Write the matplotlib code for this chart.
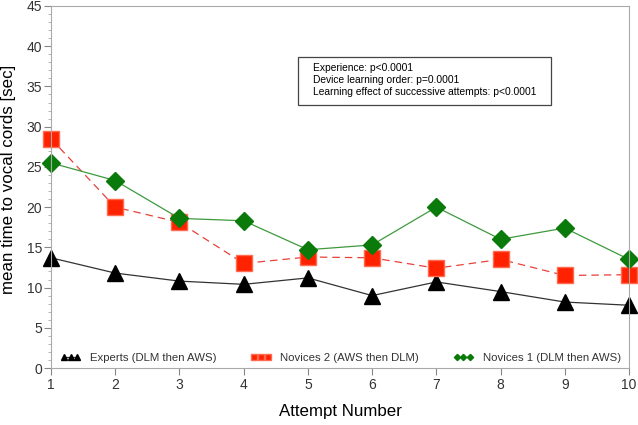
import matplotlib.pyplot as plt
from matplotlib.patches import Rectangle
from matplotlib.ticker import MultipleLocator

attempts = [1, 2, 3, 4, 5, 6, 7, 8, 9, 10]
experts = [13.7, 11.8, 10.8, 10.4, 11.2, 9.0, 10.7, 9.5, 8.2, 7.8]
novices2 = [28.5, 20.0, 18.1, 13.0, 13.8, 13.7, 12.4, 13.5, 11.5, 11.6]
novices1 = [25.5, 23.3, 18.6, 18.3, 14.7, 15.3, 20.0, 16.0, 17.4, 13.5]

plt.rcParams['font.family'] = 'Liberation Sans'

fig = plt.figure(figsize=(6.38, 4.25), dpi=100)
ax = fig.add_axes([51 / 638, 1 - 368 / 425, 578 / 638, 362 / 425])

ax.plot(attempts, experts, color='#333333', lw=0.9, marker='^', ms=12,
        mfc='black', mec='black', label='Experts (DLM then AWS)', clip_on=False)
ax.plot(attempts, novices2, color='#e8413a', lw=0.9, ls=(0, (6, 4)), marker='s', ms=12,
        mfc='#ff2200', mec='#ff6a50', label='Novices 2 (AWS then DLM)', clip_on=False)
ax.plot(attempts, novices1, color='#3d9a3d', lw=0.9, marker='D', ms=9,
        mfc='#0a7a0a', mec='#0a7a0a', label='Novices 1 (DLM then AWS)', clip_on=False)

ax.set_xlim(1, 10)
ax.set_ylim(0, 45)
ax.set_xticks(attempts)
ax.yaxis.set_major_locator(MultipleLocator(5))
ax.yaxis.set_minor_locator(MultipleLocator(1))
ax.tick_params(axis='both', labelsize=10, colors='#888888', labelcolor='#333333', length=5)
ax.tick_params(axis='y', which='minor', length=2.5, colors='#aaaaaa')
ax.tick_params(axis='x', pad=2.5)
ax.tick_params(axis='y', pad=1.5)
for s in ax.spines.values():
    s.set_color('#aaaaaa')

ax.set_xlabel('Attempt Number', fontsize=12.2)
ax.xaxis.set_label_coords(0.5, -0.1215)
ax.xaxis.label.set_va('center')
ax.set_ylabel('mean time to vocal cords [sec]', fontsize=12.2)
ax.yaxis.set_label_coords(-0.0727, 0.522)
ax.yaxis.label.set_va('center')

# stats box
ax.add_patch(Rectangle((0.4273, 0.7265), 0.4377, 0.1326, transform=ax.transAxes,
                       fc='white', ec='#444444', lw=0.9, zorder=5))
ax.text(0.453, 0.7956, 'Experience: p<0.0001\nDevice learning order: p=0.0001\n'
        'Learning effect of successive attempts: p<0.0001',
        transform=ax.transAxes, fontsize=7.4, va='center', linespacing=1.2, zorder=6)

leg = ax.legend(loc='lower center', ncol=3, frameon=False, fontsize=8.2, numpoints=3,
                markerscale=0.35, handlelength=1.8, columnspacing=3.0,
                bbox_to_anchor=(0.501, -0.015), handletextpad=0.8)
for t in leg.get_texts():
    t.set_color('#333333')

fig.savefig('out.png', dpi=100)
